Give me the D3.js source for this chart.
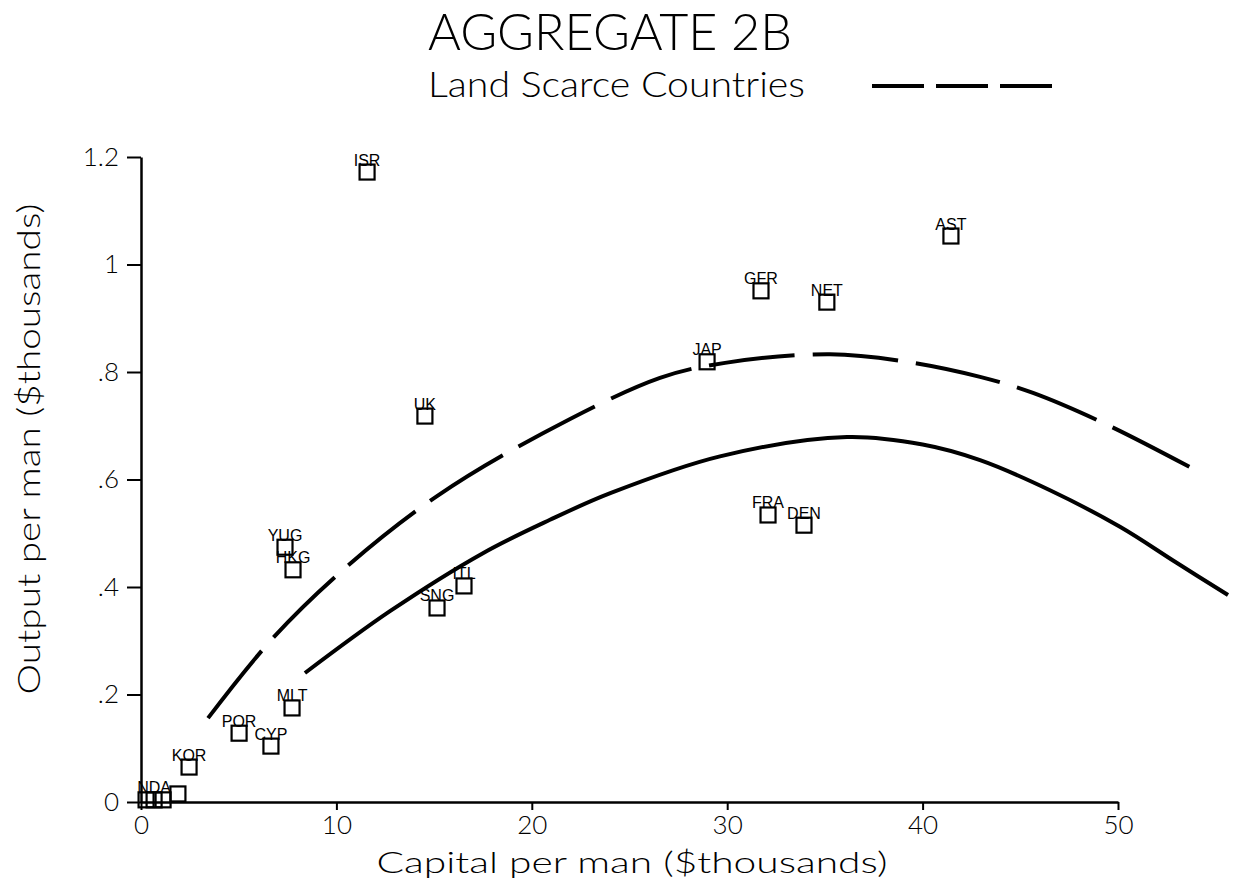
<!DOCTYPE html>
<html>
<head>
<meta charset="utf-8">
<script src="https://cdn.jsdelivr.net/npm/d3@7"></script>
<style>
  html, body { margin: 0; padding: 0; background: #fff; }
  svg { display: block; }
  text { font-family: Lato, 'Liberation Sans', Arial, sans-serif; font-weight: 300; fill: #000; }
  text.lbl { font-family: 'Liberation Sans', Arial, sans-serif; font-weight: 400; }
</style>
</head>
<body>
<svg id="chart" width="1236" height="883"></svg>
<script>
// ---- Data ----
const countries = ['ISR', 'AST', 'GFR', 'NET', 'JAP', 'UK', 'FRA', 'DEN', 'YUG', 'HKG',
  'ITL', 'SNG', 'MLT', 'POR', 'CYP', 'KOR', '', '', 'NDA', ''];
const capital = [11.57, 41.45, 31.73, 35.1, 28.97, 14.53, 32.09, 33.93, 7.37, 7.78,
  16.53, 15.15, 7.73, 5.02, 6.65, 2.46, 1.89, 0.26, 0.67, 1.13];
const output = [1.172, 1.053, 0.951, 0.93, 0.819, 0.718, 0.534, 0.515, 0.474, 0.432,
  0.402, 0.361, 0.175, 0.128, 0.104, 0.065, 0.015, 0.004, 0.004, 0.004];

// fitted curve, solid line
const solidX = [8.39, 12.74, 17.5, 20.93, 24.05, 29.63, 36.13, 40.0, 42.94, 46.52, 50.1, 53.0, 55.63];
const solidY = [0.24, 0.355, 0.463, 0.525, 0.575, 0.643, 0.679, 0.665, 0.636, 0.58, 0.512, 0.445, 0.385];

// fitted curve, dashed line (land scarce countries)
const dashX = [3.43, 6.7, 10.44, 15.15, 20.52, 26.56, 29.89, 35.26, 39.2, 42.94, 45.65, 49.49, 53.94];
const dashY = [0.156, 0.303, 0.435, 0.569, 0.685, 0.789, 0.817, 0.833, 0.819, 0.791, 0.761, 0.701, 0.618];

const xTicks = [0, 10, 20, 30, 40, 50];
const yTicks = [0, 0.2, 0.4, 0.6, 0.8, 1, 1.2];
const yTickLabels = ['0', '.2', '.4', '.6', '.8', '1', '1.2'];

const titleText = 'AGGREGATE 2B';
const subtitleText = 'Land Scarce Countries';
const xLabel = 'Capital per man ($thousands)';
const yLabel = 'Output per man ($thousands)';

(function () {
  'use strict';

  const svg = d3.select('#chart');

  const x = d3.scaleLinear().domain([0, 50]).range([141, 1118]);
  const y = d3.scaleLinear().domain([0, 1.2]).range([802, 157]);

  // ---- Titles ----
  svg.append('text')
    .attr('x', 428).attr('y', 50)
    .attr('font-size', 51)
    .attr('textLength', 364)
    .attr('lengthAdjust', 'spacingAndGlyphs')
    .text(titleText);

  svg.append('text')
    .attr('x', 428).attr('y', 97)
    .attr('font-size', 35)
    .attr('textLength', 377)
    .attr('lengthAdjust', 'spacingAndGlyphs')
    .text(subtitleText);

  // legend sample
  svg.append('line')
    .attr('x1', 872).attr('x2', 1052)
    .attr('y1', 86).attr('y2', 86)
    .attr('stroke', '#000')
    .attr('stroke-width', 4)
    .attr('stroke-dasharray', '52,12');

  // ---- Axes ----
  const xAxis = d3.axisBottom(x)
    .tickValues(xTicks)
    .tickSize(8)
    .tickSizeOuter(0)
    .tickPadding(6)
    .tickFormat(d3.format('d'));

  const gx = svg.append('g')
    .attr('transform', 'translate(0,' + y(0) + ')')
    .call(xAxis);

  const yAxis = d3.axisLeft(y)
    .tickValues(yTicks)
    .tickSize(14)
    .tickSizeOuter(0)
    .tickPadding(8)
    .tickFormat(function (d, i) { return yTickLabels[i]; });

  const gy = svg.append('g')
    .attr('transform', 'translate(' + x(0) + ',0)')
    .call(yAxis);

  [gx, gy].forEach(function (g) {
    g.select('.domain').attr('stroke', '#000').attr('stroke-width', 2.5);
    g.selectAll('.tick line').attr('stroke', '#000').attr('stroke-width', 2);
    g.selectAll('.tick text')
      .attr('font-family', "Lato, 'Liberation Sans', Arial, sans-serif")
      .attr('font-size', 26)
      .attr('fill', '#000');
  });

  // axis titles
  svg.append('text')
    .attr('x', 632).attr('y', 873)
    .attr('text-anchor', 'middle')
    .attr('font-size', 30)
    .attr('textLength', 511)
    .attr('lengthAdjust', 'spacingAndGlyphs')
    .text(xLabel);

  svg.append('text')
    .attr('transform', 'translate(40,449) rotate(-90)')
    .attr('text-anchor', 'middle')
    .attr('font-size', 31)
    .attr('textLength', 491)
    .attr('lengthAdjust', 'spacingAndGlyphs')
    .text(yLabel);

  // ---- Fitted curves ----
  const line = d3.line()
    .x(function (d) { return x(d[0]); })
    .y(function (d) { return y(d[1]); })
    .curve(d3.curveCatmullRom);

  svg.append('path')
    .datum(d3.zip(solidX, solidY))
    .attr('d', line)
    .attr('fill', 'none')
    .attr('stroke', '#000')
    .attr('stroke-width', 4);

  svg.append('path')
    .datum(d3.zip(dashX, dashY))
    .attr('d', line)
    .attr('fill', 'none')
    .attr('stroke', '#000')
    .attr('stroke-width', 4)
    .attr('stroke-dasharray', '86,18');

  // ---- Points ----
  const pts = countries.map(function (c, i) {
    return { name: c, cx: capital[i], op: output[i] };
  });

  const size = 15;

  svg.append('g')
    .selectAll('rect')
    .data(pts)
    .enter()
    .append('rect')
    .attr('x', function (d) { return x(d.cx) - size / 2; })
    .attr('y', function (d) { return y(d.op) - size / 2; })
    .attr('width', size)
    .attr('height', size)
    .attr('fill', 'none')
    .attr('stroke', '#000')
    .attr('stroke-width', 2.2);

  svg.append('g')
    .selectAll('text')
    .data(pts.filter(function (d) { return d.name; }))
    .enter()
    .append('text')
    .attr('class', 'lbl')
    .attr('x', function (d) { return x(d.cx); })
    .attr('y', function (d) { return y(d.op) - size / 2 + 1; })
    .attr('text-anchor', 'middle')
    .attr('font-size', 16)
    .text(function (d) { return d.name; });
})();
</script>
</body>
</html>
